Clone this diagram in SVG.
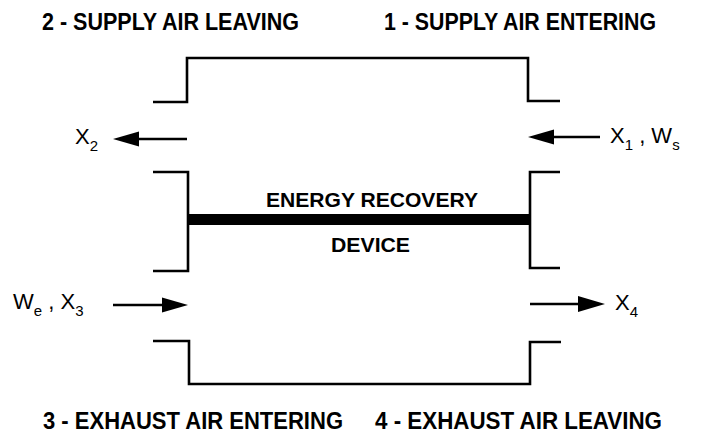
<svg xmlns="http://www.w3.org/2000/svg" width="707" height="433" viewBox="0 0 707 433">
<style>
.t{font-family:"Liberation Sans",Arial,sans-serif;font-weight:bold;font-size:23px;fill:#000}
.m{font-family:"Liberation Sans",Arial,sans-serif;font-weight:bold;font-size:21px;fill:#000}
.v{font-family:"Liberation Sans",Arial,sans-serif;font-size:22px;fill:#000}
.s{font-size:15px}
.w{fill:none;stroke:#000;stroke-width:2.6}
.a{fill:none;stroke:#000;stroke-width:2.6}
.h{fill:#000}
</style>
<rect width="707" height="433" fill="#fff"/>
<g id="labels">
<text class="t" x="42" y="30" textLength="257" lengthAdjust="spacingAndGlyphs">2 - SUPPLY AIR LEAVING</text>
<text class="t" x="384" y="30" textLength="272" lengthAdjust="spacingAndGlyphs">1 - SUPPLY AIR ENTERING</text>
<text class="t" x="43" y="429" textLength="300" lengthAdjust="spacingAndGlyphs">3 - EXHAUST AIR ENTERING</text>
<text class="t" x="375" y="429" textLength="287" lengthAdjust="spacingAndGlyphs">4 - EXHAUST AIR LEAVING</text>
</g>
<g id="device">
<path class="w" d="M153,102 H187 V58 H528 V101 H560"/>
<path class="w" d="M153,172 H188 V271 H153"/>
<path class="w" d="M560,172 H530 V268 H560"/>
<path class="w" d="M153,341 H189 V384 H530 V342 H561"/>
<rect x="188" y="214" width="342" height="11" fill="#000"/>
<text class="m" x="266" y="207" textLength="212" lengthAdjust="spacingAndGlyphs">ENERGY RECOVERY</text>
<text class="m" x="331" y="252" textLength="79" lengthAdjust="spacingAndGlyphs">DEVICE</text>
</g>
<g id="connectors">
<line class="a" x1="187" y1="139" x2="130" y2="139"/>
<path class="h" d="M113,139 L139,131.5 L139,146.5 Z"/>
<line class="a" x1="600" y1="137" x2="545" y2="137"/>
<path class="h" d="M528,137 L554,129.5 L554,144.5 Z"/>
<line class="a" x1="113" y1="305" x2="170" y2="305"/>
<path class="h" d="M188,305 L162,297.5 L162,312.5 Z"/>
<line class="a" x1="530" y1="304" x2="588" y2="304"/>
<path class="h" d="M605,304 L578,296 L578,312 Z"/>
</g>
<g id="vars">
<text class="v" x="75" y="144">X<tspan class="s" dy="7">2</tspan></text>
<text class="v" x="610" y="143">X<tspan class="s" dy="7">1</tspan><tspan dy="-7"> ,  W</tspan><tspan class="s" dy="7">s</tspan></text>
<text class="v" x="13" y="309">W<tspan class="s" dy="7">e</tspan><tspan dy="-7"> ,  X</tspan><tspan class="s" dy="7">3</tspan></text>
<text class="v" x="615" y="310">X<tspan class="s" dy="7">4</tspan></text>
</g>
</svg>
